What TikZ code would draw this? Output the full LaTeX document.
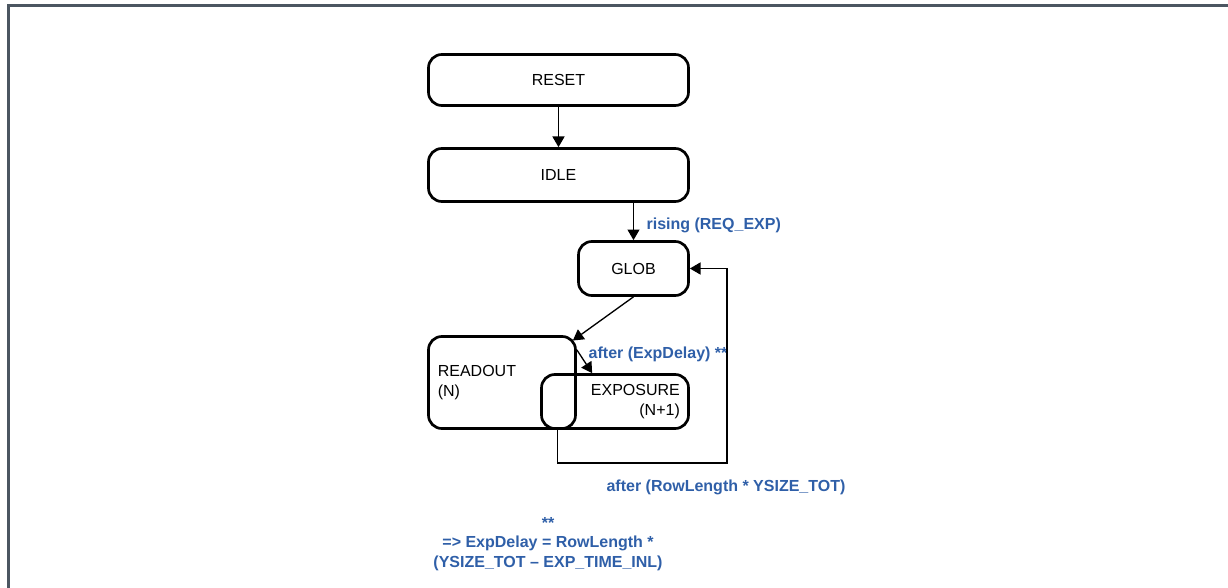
\documentclass[tikz,border=0pt]{standalone}
\usepackage{fontspec}
\setmainfont{Liberation Sans}
\usetikzlibrary{arrows.meta, positioning}
\definecolor{lblblue}{HTML}{2F5FA8}
\definecolor{framegray}{HTML}{4B5661}

\begin{document}
\begin{tikzpicture}[x=0.75pt, y=-0.75pt,
  every node/.style={font=\fontsize{12}{14.4}\selectfont},
  state/.style={draw, line width=2pt, rounded corners=10pt, inner sep=0pt},
  arr/.style={-{Triangle[length=8pt, width=9pt]}, line width=1pt},
  lbl/.style={font=\fontsize{12}{14.4}\selectfont\bfseries, text=lblblue}]

\useasboundingbox (0,0) rectangle (1228,588);

% Frame
\draw[framegray, line width=2.25pt] (8.3,588) -- (8.3,5.3) -- (1228,5.3);

% States
\node[state, minimum width=195pt, minimum height=38.25pt] (reset) at (558.5,80) {RESET};
\node[state, minimum width=195pt, minimum height=39.75pt] (idle) at (558.5,175) {IDLE};
\node[state, minimum width=82.5pt, minimum height=40.5pt] (glob) at (633.5,268.5) {GLOB};
\node[state, minimum width=110.25pt, minimum height=69pt, inner xsep=7pt,
      text width=96.25pt, align=left] (readout) at (502,382.5) {READOUT\\(N)};
\node[state, minimum width=110.25pt, minimum height=40.5pt, inner xsep=6.5pt,
      text width=97.25pt, align=right] (exposure) at (615,401.5) {EXPOSURE\\(N+1)};

% Transitions
\draw[arr] (reset) -- (idle);
\draw[arr] (idle.south -| glob.north) -- node[lbl, right=6pt, yshift=-3pt] (lblrise) {rising (REQ\_EXP)} (glob.north);
\draw[arr] (glob.south) -- ([xshift=-3pt, yshift=-4pt]readout.north east);
\draw[arr] ([yshift=-11pt]readout.north east) -- ([xshift=39pt]exposure.north west);
\node[lbl, anchor=west] (lblexp) at (584,354) {after (ExpDelay) **};

% Loop back to GLOB
\coordinate (loopcorner) at (727,463);
\draw[arr] ([xshift=13pt]exposure.south west) |- (loopcorner) |- (glob.east);
\node[lbl] (lblrow) at (726,487) {after (RowLength * YSIZE\_TOT)};

% Footnote
\node[lbl, align=center] (note) at (548,544) {**\\=> ExpDelay = RowLength *\\(YSIZE\_TOT – EXP\_TIME\_INL)};

\end{tikzpicture}
\end{document}
